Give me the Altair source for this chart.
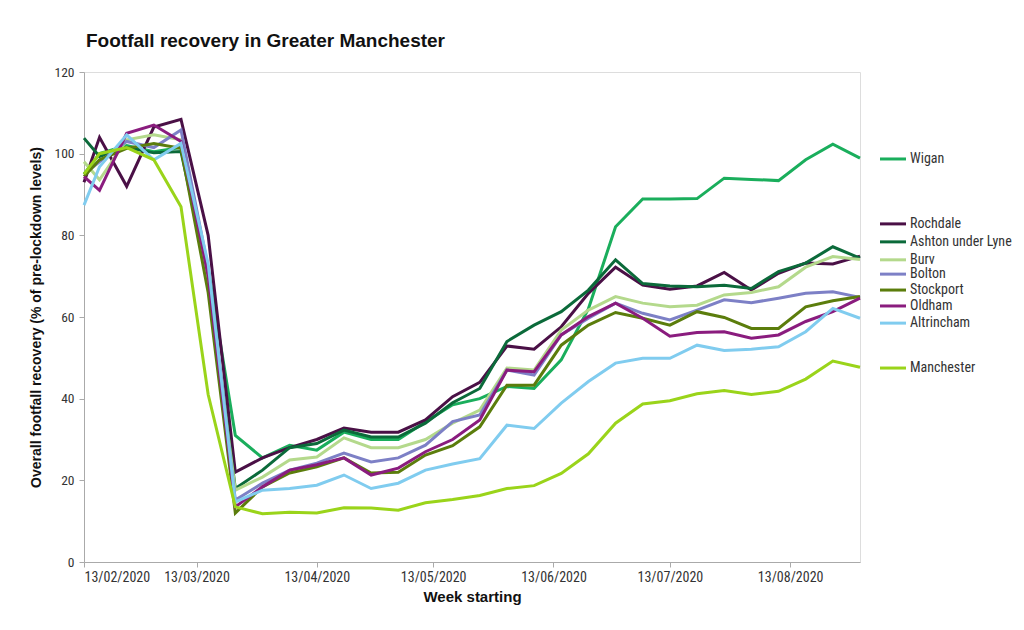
import altair as alt
import pandas as pd

dates = ["2020-02-13", "2020-02-17", "2020-02-24", "2020-03-02", "2020-03-09", "2020-03-16",
         "2020-03-23", "2020-03-30", "2020-04-06", "2020-04-13", "2020-04-20", "2020-04-27",
         "2020-05-04", "2020-05-11", "2020-05-18", "2020-05-25", "2020-06-01", "2020-06-08",
         "2020-06-15", "2020-06-22", "2020-06-29", "2020-07-06", "2020-07-13", "2020-07-20",
         "2020-07-27", "2020-08-03", "2020-08-10", "2020-08-17", "2020-08-24", "2020-08-31"]

wigan = [95, 100, 102, 100.5, 101.5, 72, 31, 25.5, 28.6, 27.4, 31.8, 30, 30, 34.3, 38.5, 40,
         43, 42.5, 49.5, 62, 82.1, 88.9, 88.9, 89, 94, 93.7, 93.4, 98.5, 102.3, 98.9]
rochdale = [93, 104, 92, 106.5, 108.4, 80, 22, 25.5, 28, 30, 32.8, 31.8, 31.8, 34.8, 40.5, 44,
            52.9, 52.1, 57.6, 65.8, 72.2, 67.8, 66.8, 67.6, 70.9, 66.6, 70.7, 73.2, 73, 74.9]
ashton = [103.8, 99.3, 101.5, 100.2, 100.5, 70, 18, 22.5, 28, 29, 32.3, 30.6, 30.6, 34, 39, 42.5,
          54, 58, 61.3, 66.6, 74, 68.2, 67.6, 67.4, 67.8, 67, 71.1, 73.2, 77.2, 74.4]
bury = [98, 93.6, 103.4, 104.6, 103.4, 68, 17.6, 20.8, 25, 25.7, 30.4, 28, 28, 30, 34, 37.2,
        47.5, 47, 56.8, 61.7, 65, 63.4, 62.5, 62.9, 65.4, 66, 67.4, 72.2, 74.8, 74.1]
bolton = [95, 98, 103, 101.5, 105.8, 72, 15.2, 19.3, 22.5, 24.2, 26.7, 24.5, 25.5, 28.6, 34.4, 36,
          47, 45.8, 55.6, 59.7, 63.4, 60.9, 59.3, 61.7, 64.2, 63.5, 64.6, 65.8, 66.2, 64.8]
stockport = [94.4, 98.5, 101.3, 102.5, 101.3, 66, 12, 18.4, 21.8, 23.3, 25.5, 21.8, 22, 26.2, 28.5, 33.1,
             43.3, 43.3, 53.1, 58, 61.1, 59.7, 58, 61.3, 59.9, 57.2, 57.2, 62.5, 64, 65]
oldham = [94.4, 91, 105, 107, 103, 70, 13.5, 18.4, 22.5, 23.8, 25.5, 21.3, 23, 27, 30, 34.8,
          47, 46.6, 55.6, 60.1, 63.4, 59.7, 55.3, 56.2, 56.4, 54.8, 55.6, 58.9, 61.3, 64.6]
altrincham = [87.4, 96.8, 104.6, 98.5, 102.5, 73, 14.7, 17.6, 18, 18.8, 21.3, 18, 19.3, 22.5, 24, 25.3,
              33.5, 32.7, 38.9, 44.2, 48.7, 49.9, 49.9, 53.1, 51.8, 52.1, 52.7, 56.4, 62.1, 59.7]
manchester = [95, 100, 101.5, 98.5, 87, 41, 13.5, 11.8, 12.2, 12, 13.3, 13.2, 12.7, 14.5, 15.3, 16.3,
              18, 18.7, 21.7, 26.5, 34, 38.7, 39.5, 41.2, 42, 41, 41.8, 44.8, 49.2, 47.7]

series_names = ["Wigan", "Rochdale", "Ashton under Lyne", "Burv", "Bolton", "Stockport",
                "Oldham", "Altrincham", "Manchester"]
series_colors = ["#1aae5c", "#4a1046", "#0b6a3a", "#b4d98c", "#7d80c6", "#5b7d0c",
                 "#8a1c7e", "#80ccef", "#9ad41a"]
series_values = [wigan, rochdale, ashton, bury, bolton, stockport, oldham, altrincham, manchester]
# legend label positions, in value units, as placed beside the line ends
legend_levels = [98.7, 82.8, 78.4, 74.0, 70.5, 66.6, 62.7, 58.5, 47.5]

rows = []
for name, vals in zip(series_names, series_values):
    for d, v in zip(dates, vals):
        rows.append({"date": d, "value": v, "series": name})
df = pd.DataFrame(rows)
leg = pd.DataFrame({"series": series_names, "level": legend_levels})

FONT = "Liberation Sans Narrow, Roboto Condensed, Liberation Sans, sans-serif"

color_scale = alt.Scale(domain=series_names, range=series_colors)
x_scale = alt.Scale(type="utc",
                    domain=[alt.DateTime(year=2020, month=2, date=13, utc=True),
                            alt.DateTime(year=2020, month=8, date=31, utc=True)])
y_scale = alt.Scale(domain=[0, 120])

tick_values = [alt.DateTime(year=2020, month=m, date=13, utc=True) for m in range(2, 9)]

lines = alt.Chart(df).mark_line(strokeWidth=3).encode(
    x=alt.X("date:T", scale=x_scale,
            axis=alt.Axis(values=tick_values, format="%d/%m/%Y", title="Week starting",
                          labelFontSize=14, labelColor="#333", labelFont=FONT,
                          titleFont="Liberation Sans Narrow, Liberation Sans, sans-serif",
                          titleFontSize=15, titleFontWeight="bold", titleColor="#111",
                          titlePadding=5, domainColor="#aaa", tickColor="#aaa", tickSize=5,
                          grid=False, labelPadding=3)),
    y=alt.Y("value:Q", scale=y_scale,
            axis=alt.Axis(values=[0, 20, 40, 60, 80, 100, 120],
                          title="Overall footfall recovery (% of pre-lockdown levels)",
                          labelFontSize=13.5, labelColor="#333", labelFont=FONT,
                          titleFont="Liberation Sans Narrow, Liberation Sans, sans-serif",
                          titleFontSize=14, titleFontWeight="bold", titleColor="#111",
                          titlePadding=11, domainColor="#aaa", tickColor="#aaa", tickSize=5,
                          grid=False, labelPadding=5)),
    color=alt.Color("series:N", scale=color_scale, legend=None),
    detail="series:N",
)

leg_rules = alt.Chart(leg).mark_rule(strokeWidth=3).encode(
    x=alt.value(796), x2=alt.value(822),
    y=alt.Y("level:Q", scale=y_scale),
    color=alt.Color("series:N", scale=color_scale, legend=None),
)
leg_text = alt.Chart(leg).mark_text(align="left", baseline="middle", fontSize=14,
                                    font=FONT, color="#333").encode(
    x=alt.value(826),
    y=alt.Y("level:Q", scale=y_scale),
    text="series:N",
)

chart = alt.layer(lines, leg_rules, leg_text).properties(
    width=776, height=490,
    autosize=alt.AutoSizeParams(type="none"),
    padding={"left": 76, "top": 64, "right": 156, "bottom": 60},
    title=alt.TitleParams("Footfall recovery in Greater Manchester", anchor="start",
                          frame="group", fontSize=19, fontWeight="bold", color="#111",
                          font="Liberation Sans, Roboto, sans-serif", dx=2, offset=14),
).configure_view(stroke=None).configure(background="white")

chart.save("out.html", embed_options={"renderer": "svg", "actions": False})
